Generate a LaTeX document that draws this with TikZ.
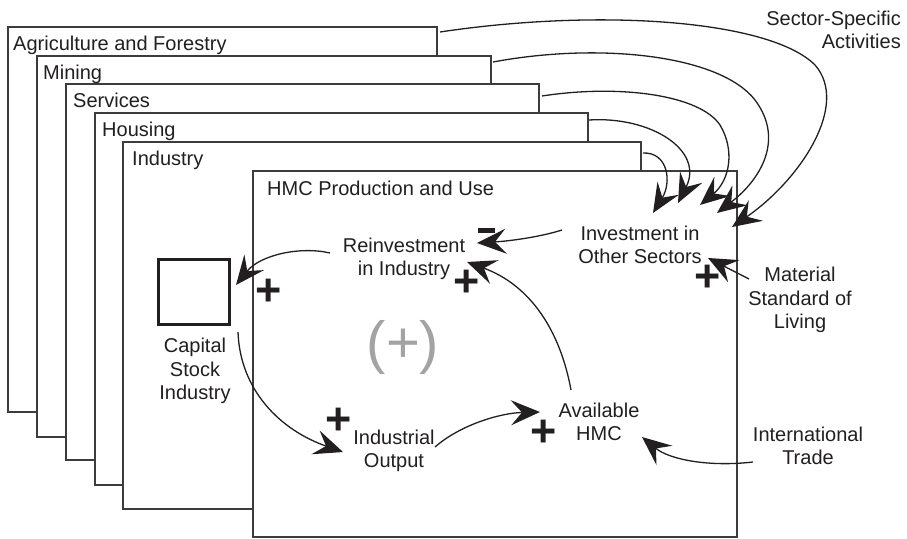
\documentclass[tikz,border=0pt]{standalone}
\usepackage{fontspec}
\setmainfont{Liberation Sans}
\usetikzlibrary{arrows.meta}
\definecolor{ink}{HTML}{231F20}
\definecolor{frame}{HTML}{3C3C3C}
\definecolor{loopgray}{HTML}{A3A3A3}
\begin{document}
\begin{tikzpicture}[x=1pt,y=-1pt,
  sector/.style={draw=frame, line width=1.2pt, fill=white, anchor=north west, inner sep=0pt, outer sep=0pt},
  title/.style={font=\fontsize{20}{24}\selectfont, text=ink, inner sep=0pt, anchor=base west},
  lbl/.style={font=\fontsize{20}{23.5}\selectfont, text=ink, inner sep=0pt, align=center},
  plussign/.style={font=\fontsize{45}{45}\selectfont\bfseries, text=ink, inner sep=0pt},
  arr/.style={draw=ink, line width=1.3pt, -{Stealth[length=29pt 0 0,width=25pt 0 0,inset=11pt 0]}}]
\useasboundingbox (0,0) rectangle (907,538);
% stacked sector pages
\node[sector, minimum width=429, minimum height=385] (agr) at (8,27) {};
\node[title] (agrT) at (13,50) {Agriculture and Forestry};
\node[sector, minimum width=454, minimum height=381] (min) at (37,56) {};
\node[title] (minT) at (43,79.5) {Mining};
\node[sector, minimum width=473, minimum height=376] (ser) at (66,84) {};
\node[title] (serT) at (73,107.5) {Services};
\node[sector, minimum width=493, minimum height=372] (hou) at (95,113) {};
\node[title] (houT) at (102,136.5) {Housing};
\node[sector, minimum width=518, minimum height=367] (ind) at (123,142) {};
\node[title] (indT) at (132,165.5) {Industry};
\node[sector, minimum width=484, minimum height=366] (hmc) at (253,171) {};
\node[title] (hmcT) at (267,195) {HMC Production and Use};
% variables
\node[lbl, align=right, anchor=east] (ssa) at (901,30) {Sector-Specific\\Activities};
\node[lbl] (inv) at (640,245) {Investment in\\Other Sectors};
\node[lbl] (rei) at (404,259) {Reinvestment\\in Industry};
\node[draw=ink, line width=3pt, minimum width=71, minimum height=65, inner sep=0pt] (cap) at (194,292) {};
\node[lbl] (capT) at (195,371) {Capital\\Stock\\Industry};
\node[lbl] (out) at (394,451) {Industrial\\Output};
\node[lbl] (ava) at (599,422) {Available\\HMC};
\node[lbl] (trade) at (808,446) {International\\Trade};
\node[lbl] (msl) at (800,300) {Material\\Standard of\\Living};
\node[font=\fontsize{58}{58}\selectfont, text=loopgray, inner sep=0pt] (loop) at (403,347) {(+)};
% polarity signs
\node[plussign] (p1) at (269,292) {+};
\node[plussign] (p2) at (467,283) {+};
\node[plussign] (p3) at (708,278) {+};
\node[plussign] (p4) at (339,421) {+};
\node[plussign] (p5) at (544,433) {+};
\node[fill=ink, minimum width=17, minimum height=5, inner sep=0pt] (m1) at (486.5,230.5) {};
% connector end points
\coordinate (sA) at (440,32);  \coordinate (tA) at (732,227);
\coordinate (sM) at (493,62);  \coordinate (tM) at (717,213);
\coordinate (sS) at (542,96);  \coordinate (tS) at (700,205);
\coordinate (sH) at (589,120); \coordinate (tH) at (678,203);
\coordinate (sI) at (643,153); \coordinate (tI) at (653,213);
\coordinate (invW) at (562,230); \coordinate (reiE) at (477,243);
\coordinate (reiW) at (330,253); \coordinate (capE) at (236,285);
\coordinate (avaN) at (571,390); \coordinate (reiS) at (467,262);
\coordinate (capS) at (238,332); \coordinate (outW) at (343,452);
\coordinate (outE) at (435,447); \coordinate (avaW) at (540,412);
\coordinate (tradeW) at (753,462); \coordinate (avaE) at (642,437);
\coordinate (mslW) at (749,279); \coordinate (invSE) at (708,258);
% connectors
\draw[arr] (sA) .. controls (600,8) and (770,20) .. (815,65) .. controls (850,105) and (800,180) .. (tA);
\draw[arr] (sM) .. controls (600,42) and (720,55) .. (755,100) .. controls (785,140) and (760,180) .. (tM);
\draw[arr] (sS) .. controls (620,84) and (700,95) .. (720,125) .. controls (735,150) and (730,180) .. (tS);
\draw[arr] (sH) .. controls (650,116) and (705,150) .. (tH);
\draw[arr] (sI) .. controls (668,152) and (672,182) .. (tI);
\draw[arr] (invW) .. controls (540,237) and (510,241) .. (reiE);
\draw[arr] (reiW) .. controls (300,246) and (260,255) .. (capE);
\draw[arr] (avaN) .. controls (560,330) and (530,285) .. (reiS);
\draw[arr] (capS) .. controls (240,390) and (280,430) .. (outW);
\draw[arr] (outE) .. controls (460,425) and (500,413) .. (avaW);
\draw[arr] (tradeW) .. controls (710,467) and (670,460) .. (avaE);
\draw[arr] (mslW) -- (invSE);
\end{tikzpicture}
\end{document}
